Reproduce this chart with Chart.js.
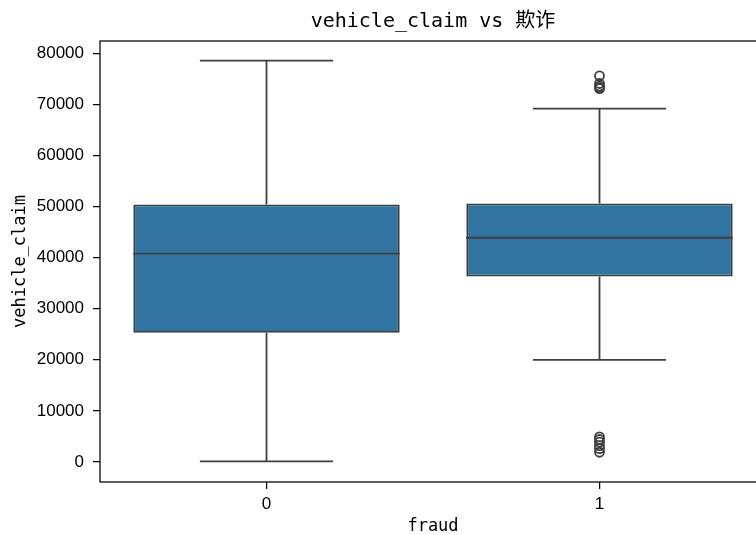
<!DOCTYPE html>
<html>
<head>
<meta charset="utf-8">
<script src="https://cdn.jsdelivr.net/npm/chart.js@4.4.1/dist/chart.umd.min.js"></script>
<style>
  html, body { margin: 0; padding: 0; background: #fff; overflow: hidden; }
  #wrap { width: 800px; height: 535px; }
</style>
</head>
<body>
<div id="wrap"><canvas id="grafico"></canvas></div>
<script>
// === Dados ===
const titulo = "vehicle_claim vs 欺诈";
const categorias = ["0", "1"];
const q1 = [25300, 36300];
const mediana = [40800, 43900];
const q3 = [50400, 50600];
const bigodeMin = [100, 20000];
const bigodeMax = [78600, 69200];
const outliers1 = [75600, 74100, 73600, 73300, 73100, 4900, 4400, 3900, 3200, 2600, 1900];
const yTicks = [0, 10000, 20000, 30000, 40000, 50000, 60000, 70000, 80000];

const corCaixa = "#3274a1";
const corLinha = "#3f3f3f";
const fonteMono = "'DejaVu Sans Mono', 'Noto Sans CJK SC', monospace";

// === Bigodes, mediana, moldura e titulo ===
const boxPlugin = {
  id: "boxExtras",
  afterDatasetsDraw(chart) {
    const { ctx, chartArea, scales } = chart;
    const meta = chart.getDatasetMeta(0);
    ctx.save();
    ctx.strokeStyle = corLinha;
    ctx.lineWidth = 1.8;
    categorias.forEach((c, i) => {
      const x = scales.x.getPixelForValue(i);
      const bar = meta.data[i];
      const meia = bar.width / 2;
      const cap = bar.width / 4;
      const yLo = scales.y.getPixelForValue(bigodeMin[i]);
      const yHi = scales.y.getPixelForValue(bigodeMax[i]);
      const yQ1 = scales.y.getPixelForValue(q1[i]);
      const yQ3 = scales.y.getPixelForValue(q3[i]);
      const yMed = scales.y.getPixelForValue(mediana[i]);
      ctx.beginPath();
      ctx.moveTo(x, yQ3); ctx.lineTo(x, yHi);
      ctx.moveTo(x - cap, yHi); ctx.lineTo(x + cap, yHi);
      ctx.moveTo(x, yQ1); ctx.lineTo(x, yLo);
      ctx.moveTo(x - cap, yLo); ctx.lineTo(x + cap, yLo);
      ctx.moveTo(x - meia, yMed); ctx.lineTo(x + meia, yMed);
      ctx.stroke();
    });
    // moldura dos eixos
    ctx.strokeStyle = "#000";
    ctx.lineWidth = 1.25;
    ctx.strokeRect(chartArea.left, chartArea.top, chartArea.right - chartArea.left, chartArea.bottom - chartArea.top);
    // titulo centrado sobre os eixos
    ctx.fillStyle = "#000";
    ctx.font = "20px " + fonteMono;
    ctx.textAlign = "center";
    ctx.textBaseline = "middle";
    ctx.fillText(titulo, (chartArea.left + chartArea.right) / 2, 22);
    ctx.restore();
  }
};

const ctx = document.getElementById("grafico").getContext("2d");
const grafico = new Chart(ctx, {
  type: "bar",
  data: {
    labels: categorias,
    datasets: [
      {
        data: categorias.map((c, i) => [q1[i], q3[i]]),
        backgroundColor: corCaixa,
        borderColor: corLinha,
        borderWidth: 1.8,
        borderSkipped: false,
        categoryPercentage: 1,
        barPercentage: 0.8
      },
      {
        type: "line",
        data: outliers1.map(v => ({ x: "1", y: v })),
        showLine: false,
        pointRadius: 4.5,
        pointStyle: "circle",
        pointBackgroundColor: "rgba(0,0,0,0)",
        pointBorderColor: corLinha,
        pointBorderWidth: 1.8
      }
    ]
  },
  options: {
    responsive: true,
    maintainAspectRatio: false,
    animation: false,
    layout: { padding: { left: 0, top: 41, right: 34, bottom: 0 } },
    plugins: {
      legend: { display: false },
      tooltip: { enabled: false },
      title: { display: false }
    },
    scales: {
      x: {
        offset: true,
        grid: { display: true, drawOnChartArea: false, drawTicks: true, tickLength: 7, color: "#000", lineWidth: 1.25, offset: false },
        border: { display: false },
        ticks: { color: "#000", padding: 5, font: { family: "'Liberation Sans', Arial, sans-serif", size: 17 } },
        title: {
          display: true,
          text: "fraud",
          color: "#000",
          font: { family: fonteMono, size: 17, lineHeight: 1 },
          padding: { top: 0, bottom: 0 }
        },
        afterFit(scale) { scale.height = 53; }
      },
      y: {
        min: -3925,
        max: 82425,
        grid: { display: true, drawOnChartArea: false, drawTicks: true, tickLength: 7, color: "#000", lineWidth: 1.25 },
        border: { display: false },
        ticks: {
          color: "#000",
          padding: 9,
          font: { family: "'Liberation Sans', Arial, sans-serif", size: 17 },
          callback: v => String(v)
        },
        afterBuildTicks(scale) { scale.ticks = yTicks.map(v => ({ value: v })); },
        title: {
          display: true,
          text: "vehicle_claim",
          color: "#000",
          font: { family: fonteMono, size: 17, lineHeight: 1.2 },
          padding: { top: 10, bottom: 0 }
        },
        afterFit(scale) { scale.width = 100; }
      }
    }
  },
  plugins: [boxPlugin]
});
</script>
</body>
</html>
